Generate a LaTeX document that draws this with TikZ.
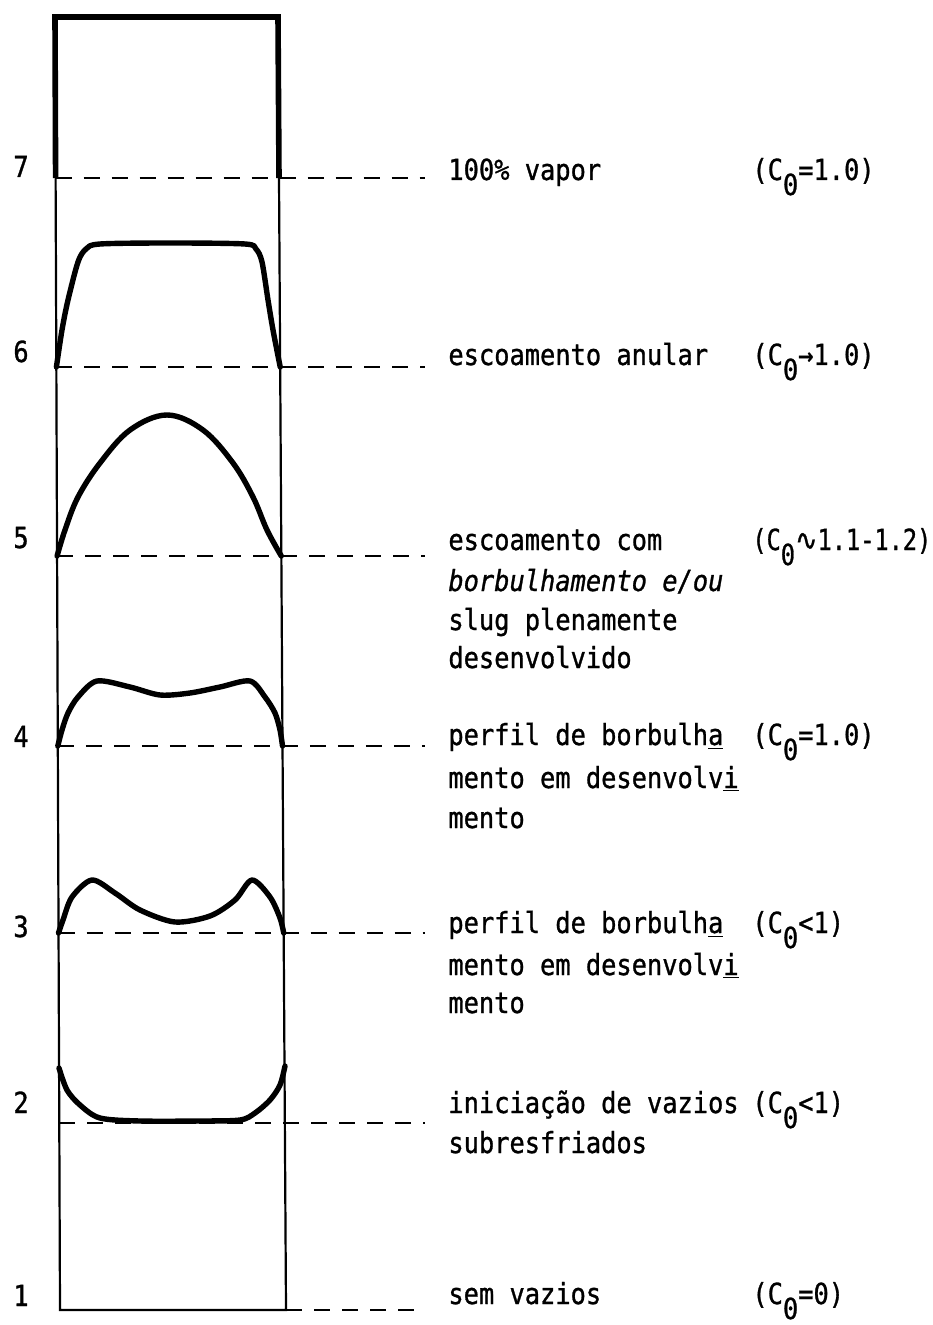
\documentclass[tikz,border=0pt]{standalone}
\usepackage{fontspec}
\newfontfamily\tw[FakeStretch=0.875,FakeBold=1]{DejaVu Sans Mono}
\newfontfamily\djs[FakeBold=1]{DejaVu Sans}
\newcommand\Cz{(C\raisebox{-7.5pt}{0}}
\begin{document}
\begin{tikzpicture}[x=0.5pt,y=-0.5pt,
  lbl/.style={font=\tw\fontsize{14.5pt}{18pt}\selectfont, anchor=base west, inner sep=0pt},
  wallthin/.style={line width=1.1pt},
  wallthick/.style={line width=2.8pt, line join=miter},
  prof/.style={line width=2.7pt, line join=round, line cap=round},
  lev/.style={line width=1.4pt, dash pattern=on 8pt off 6pt}]
\useasboundingbox (0,0) rectangle (932,1325);

% tube corners
\coordinate (TL) at (55,17);
\coordinate (TR) at (278,17);
\coordinate (BL) at (60,1310);
\coordinate (BR) at (286,1310);
% wall points at levels
\coordinate (L7) at (55.6,178);  \coordinate (R7) at (279.0,178);
\coordinate (L6) at (56.4,367);  \coordinate (R6) at (280.2,367);
\coordinate (L5) at (57.1,556);  \coordinate (R5) at (281.3,556);
\coordinate (L4) at (57.8,746);  \coordinate (R4) at (282.5,746);
\coordinate (L3) at (58.5,933);  \coordinate (R3) at (283.7,933);
\coordinate (L2) at (59.3,1123); \coordinate (R2) at (284.8,1123);
% dashed line ends
\coordinate (E7) at (425,178);
\coordinate (E6) at (425,367);
\coordinate (E5) at (425,556);
\coordinate (E4) at (425,746);
\coordinate (E3) at (425,933);
\coordinate (E2) at (425,1123);
\coordinate (E1) at (425,1310);

% tube
\draw[wallthin] (L7) -- (BL) -- (BR) -- (R7);
\draw[wallthick] (L7) -- (TL) -- (TR) -- (R7);

% level lines
\draw[lev] (L7) -- (E7);
\draw[lev] (L6) -- (E6);
\draw[lev] (L5) -- (E5);
\draw[lev] (L4) -- (E4);
\draw[lev] (L3) -- (E3);
\draw[lev] (L2) -- (E2);
\draw[lev] (BR) -- (E1);

% profiles
\draw[prof] plot[smooth, tension=0.5] coordinates {(56.4,367) (62,330) (68,300) (78,262) (86,249) (100,244) (170,243) (245,244) (256,249) (262,262) (268,300) (273,330) (280.2,367)};
\draw[prof] plot[smooth, tension=0.6] coordinates {(57.1,556) (65,530) (78,497) (100,463) (130,430) (167,415) (203,430) (233,463) (253,497) (267,530) (281.3,556)};
\draw[prof] plot[smooth, tension=0.5] coordinates {(57.8,746) (62,730) (68,713) (78,697) (97,681) (130,687) (160,695) (190,693) (220,687) (250,681) (265,697) (275,713) (280,730) (282.5,746)};
\draw[prof] plot[smooth, tension=0.5] coordinates {(58.5,933) (63,920) (72,897) (92,880) (115,893) (140,910) (175,922) (210,916) (235,900) (252,880) (270,897) (280,918) (283.7,933)};
\draw[prof] plot[smooth, tension=0.5] coordinates {(59,1068) (67,1090) (80,1105) (100,1118) (140,1121) (200,1121) (240,1120) (255,1113) (270,1100) (280,1085) (285,1066)};

% level numbers
\node[lbl] (n7) at (13,177) {7};
\node[lbl] (n6) at (13,362) {6};
\node[lbl] (n5) at (13,548) {5};
\node[lbl] (n4) at (13,747) {4};
\node[lbl] (n3) at (13,937) {3};
\node[lbl] (n2) at (13,1113) {2};
\node[lbl] (n1) at (13,1306) {1};

% descriptions
\node[lbl] (t7) at (448,180) {100\% vapor};
\node[lbl] (c7) at (752,180) {\Cz=1.0)};

\node[lbl] (t6) at (448,365) {escoamento anular};
\node[lbl] (c6) at (752,365) {\Cz→1.0)};

\node[lbl] (t5a) at (448,550) {escoamento com};
\node[lbl] (t5b) at (448,591) {\itshape borbulhamento e/ou};
\node[lbl] (t5c) at (448,630) {slug plenamente};
\node[lbl] (t5d) at (448,668) {desenvolvido};
\node[lbl] (c5) at (752,550) {\scalebox{0.93}[1]{\Cz{\djs ∿}1.1-1.2)}};

\node[lbl] (t4a) at (448,745) {perfil de borbulh\underline{a}};
\node[lbl] (t4b) at (448,788) {mento em desenvolv\underline{i}};
\node[lbl] (t4c) at (448,828) {mento};
\node[lbl] (c4) at (752,745) {\Cz=1.0)};

\node[lbl] (t3a) at (448,933) {perfil de borbulh\underline{a}};
\node[lbl] (t3b) at (448,975) {mento em desenvolv\underline{i}};
\node[lbl] (t3c) at (448,1013) {mento};
\node[lbl] (c3) at (752,933) {\Cz<1)};

\node[lbl] (t2a) at (448,1113) {iniciação de vazios};
\node[lbl] (t2b) at (448,1153) {subresfriados};
\node[lbl] (c2) at (752,1113) {\Cz<1)};

\node[lbl] (t1) at (448,1304) {sem vazios};
\node[lbl] (c1) at (752,1304) {\Cz=0)};
\end{tikzpicture}
\end{document}
